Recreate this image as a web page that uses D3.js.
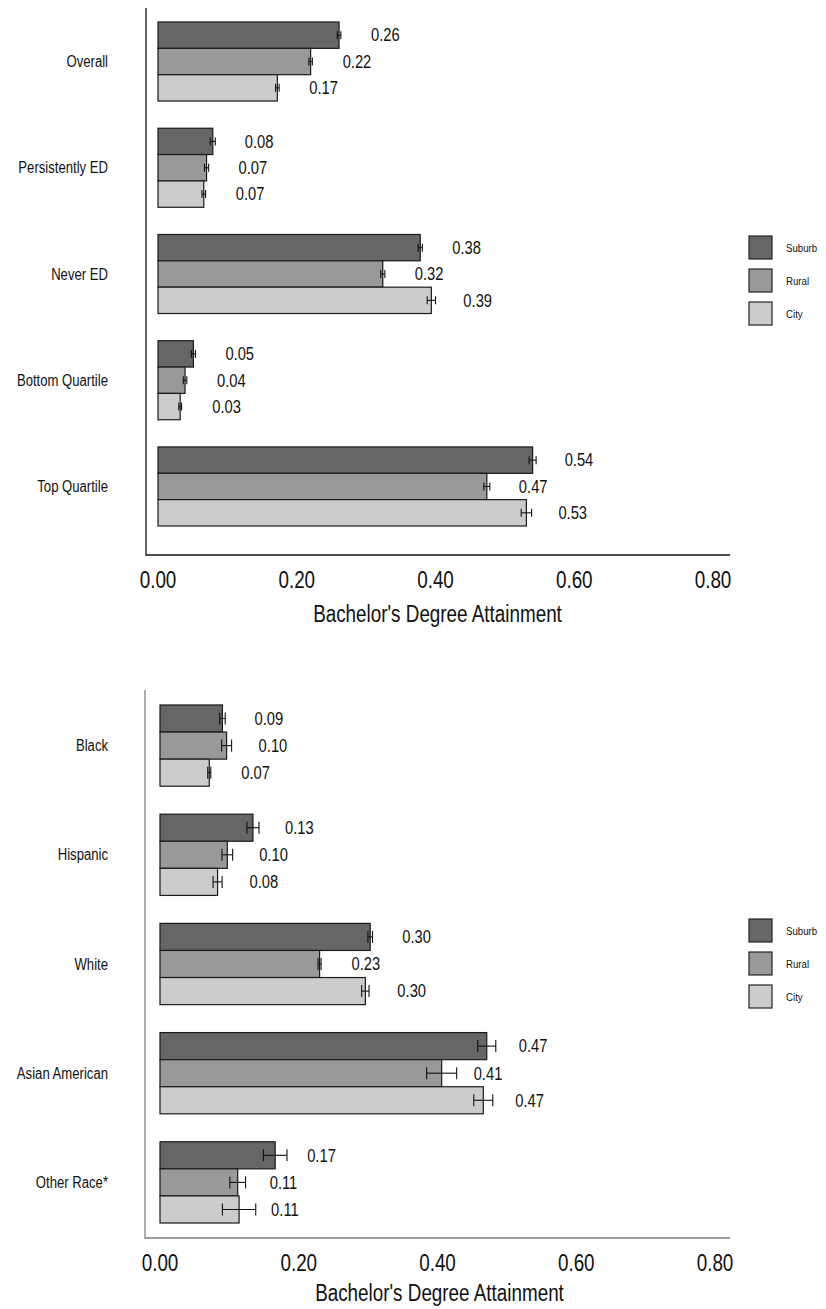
<!DOCTYPE html>
<html>
<head>
<meta charset="utf-8">
<script src="https://cdn.jsdelivr.net/npm/d3@7/dist/d3.min.js"></script>
<style>
  html, body { margin: 0; padding: 0; background: #fff; }
  svg { display: block; }
  text { font-family: "Liberation Sans", Arial, sans-serif; fill: #111; }
</style>
</head>
<body>
<svg id="chart" width="826" height="1309"></svg>
<script>
// Series order inside each group (top to bottom) and legend entries
const seriesNames = ["Suburb", "Rural", "City"];
const seriesColors = ["#666666", "#999999", "#cccccc"];

// Panel 1: economic-disadvantage / achievement groups
const categoriesTop = ["Overall", "Persistently ED", "Never ED", "Bottom Quartile", "Top Quartile"];
const suburbTop = [0.261, 0.079, 0.378, 0.051, 0.540];
const ruralTop  = [0.220, 0.070, 0.324, 0.039, 0.474];
const cityTop   = [0.172, 0.066, 0.394, 0.032, 0.531];
const suburbTopErr = [0.0026, 0.0036, 0.0030, 0.0030, 0.0050];
const ruralTopErr  = [0.0025, 0.0030, 0.0030, 0.0025, 0.0043];
const cityTopErr   = [0.0026, 0.0026, 0.0060, 0.0020, 0.0075];

// Panel 2: race / ethnicity groups
const categoriesBottom = ["Black", "Hispanic", "White", "Asian American", "Other Race*"];
const suburbBottom = [0.090, 0.134, 0.303, 0.471, 0.166];
const ruralBottom  = [0.096, 0.097, 0.230, 0.406, 0.112];
const cityBottom   = [0.071, 0.083, 0.296, 0.466, 0.114];
const suburbBottomErr = [0.0040, 0.0087, 0.0033, 0.0130, 0.0170];
const ruralBottomErr  = [0.0072, 0.0077, 0.0022, 0.0216, 0.0113];
const cityBottomErr   = [0.0022, 0.0065, 0.0053, 0.0137, 0.0240];

// Axis
const xTicks = [0, 0.2, 0.4, 0.6, 0.8];
const xTitle = "Bachelor's Degree Attainment";

const svg = d3.select("#chart");
const SQUEEZE = 0.82; // condensed lettering
const fmt = d3.format(".2f");

function placeText(sel, x, y) {
  return sel.attr("transform", `translate(${x},${y}) scale(${SQUEEZE},1)`);
}

function drawPanel(p) {
  const g = svg.append("g");
  const x = d3.scaleLinear().domain([0, 0.8]).range(p.xRange);
  const y = d3.scaleBand().domain(p.categories).range(p.yRange)
    .paddingInner(0.256).paddingOuter(0.128);
  const ySub = d3.scaleBand().domain(seriesNames).range([0, y.bandwidth()]);

  const rows = [];
  p.categories.forEach((c, i) => {
    p.values.forEach((vals, s) => {
      rows.push({ cat: c, series: seriesNames[s], s, v: vals[i], e: p.errors[s][i] });
    });
  });

  // bars
  g.selectAll("rect.bar").data(rows).join("rect")
    .attr("class", "bar")
    .attr("x", x(0))
    .attr("y", d => y(d.cat) + ySub(d.series))
    .attr("width", d => x(d.v) - x(0))
    .attr("height", ySub.bandwidth())
    .attr("fill", d => seriesColors[d.s])
    .attr("stroke", "#1a1a1a")
    .attr("stroke-width", 1.2);

  // error bars
  const eb = g.selectAll("g.err").data(rows).join("g").attr("class", "err")
    .attr("stroke", "#111").attr("stroke-width", 1.1);
  const cy = d => y(d.cat) + ySub(d.series) + ySub.bandwidth() / 2;
  eb.append("line")
    .attr("x1", d => x(d.v - d.e)).attr("x2", d => x(d.v + d.e))
    .attr("y1", cy).attr("y2", cy);
  eb.append("line")
    .attr("x1", d => x(d.v - d.e)).attr("x2", d => x(d.v - d.e))
    .attr("y1", d => cy(d) - p.cap).attr("y2", d => cy(d) + p.cap);
  eb.append("line")
    .attr("x1", d => x(d.v + d.e)).attr("x2", d => x(d.v + d.e))
    .attr("y1", d => cy(d) - p.cap).attr("y2", d => cy(d) + p.cap);

  // value labels
  g.selectAll("text.val").data(rows).join("text")
    .attr("class", "val")
    .attr("font-size", 18)
    .attr("dy", "0.35em")
    .text(d => fmt(d.v))
    .each(function (d) { placeText(d3.select(this), x(d.v) + 32, cy(d)); });

  // category labels
  g.selectAll("text.cat").data(p.categories).join("text")
    .attr("class", "cat")
    .attr("font-size", 16)
    .attr("text-anchor", "end")
    .attr("dy", "0.35em")
    .text(d => d)
    .each(function (d) { placeText(d3.select(this), 108, y(d) + y.bandwidth() / 2); });

  // axis frame (left and bottom lines)
  g.append("path")
    .attr("d", `M${p.axisX},${p.axisTop}V${p.axisY}H730`)
    .attr("fill", "none")
    .attr("stroke", p.axisColor)
    .attr("stroke-width", 1.3);

  // tick labels
  g.selectAll("text.tick").data(xTicks).join("text")
    .attr("class", "tick")
    .attr("font-size", 23)
    .attr("text-anchor", "middle")
    .attr("dy", "0.35em")
    .text(d => fmt(d))
    .each(function (d) { placeText(d3.select(this), x(d), p.axisY + 25); });

  placeText(g.append("text")
    .attr("font-size", 23)
    .attr("text-anchor", "middle")
    .attr("dy", "0.35em")
    .text(xTitle), (p.xRange[0] + p.xRange[1]) / 2 + 2, p.axisY + p.titleDy);

  // legend
  const lg = g.append("g");
  seriesNames.forEach((name, i) => {
    const ly = p.legendY + i * 33;
    lg.append("rect")
      .attr("x", 749).attr("y", ly)
      .attr("width", 23).attr("height", 23)
      .attr("fill", seriesColors[i])
      .attr("stroke", "#222").attr("stroke-width", 1.2);
    placeText(lg.append("text")
      .attr("font-size", 11.8)
      .attr("dy", "0.35em")
      .text(name), 786, ly + 11.5);
  });
}

drawPanel({
  categories: categoriesTop,
  values: [suburbTop, ruralTop, cityTop],
  errors: [suburbTopErr, ruralTopErr, cityTopErr],
  xRange: [158, 713],
  yRange: [8.4, 539.6],
  axisX: 146, axisTop: 8, axisY: 555,
  axisColor: "#111",
  cap: 4,
  titleDy: 59,
  legendY: 236
});

drawPanel({
  categories: categoriesBottom,
  values: [suburbBottom, ruralBottom, cityBottom],
  errors: [suburbBottomErr, ruralBottomErr, cityBottomErr],
  xRange: [160, 715],
  yRange: [691, 1237],
  axisX: 145, axisTop: 690, axisY: 1238,
  axisColor: "#808080",
  cap: 6,
  titleDy: 55,
  legendY: 919
});
</script>
</body>
</html>
